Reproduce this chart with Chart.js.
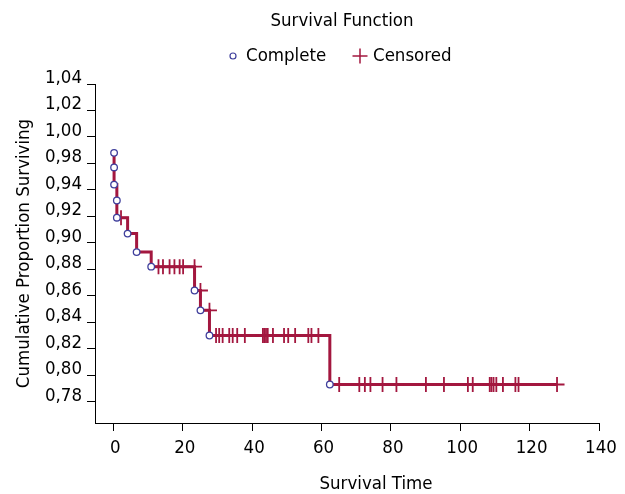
<!DOCTYPE html>
<html>
<head>
<meta charset="utf-8">
<script src="https://cdn.jsdelivr.net/npm/chart.js@4.4.0/dist/chart.umd.min.js"></script>
<style>
  html, body { margin: 0; padding: 0; background: #fff; }
  #wrap { width: 625px; height: 494px; }
</style>
</head>
<body>
<div id="wrap"><canvas id="grafico"></canvas></div>
<script>
// Eventos completos (circulos): tiempo y proporcion acumulada
var tiemposEvento = [0.2, 0.2, 0.2, 1.0, 1.0, 4.1, 6.7, 10.9, 23.4, 25.1, 27.7, 62.4];
var supervEvento  = [0.968, 0.957, 0.944, 0.932, 0.919, 0.907, 0.893, 0.882, 0.864, 0.849, 0.830, 0.793];

// Casos censurados (cruces): solo el tiempo, la altura sale de la curva
var tiemposCensura = [2.2, 13.0, 14.3, 16.2, 17.6, 19.1, 20.1, 23.4, 25.1, 27.7,
  29.6, 30.5, 31.5, 33.4, 34.4, 35.7, 37.9, 43.1, 43.5, 44.0, 44.5, 46.0, 49.2, 50.4, 52.4, 56.2, 57.1, 59.1,
  65.1, 70.9, 72.5, 74.1, 77.6, 81.6, 90.1, 95.3, 102.2, 103.6, 108.5, 109.0, 109.6, 110.4, 112.3, 115.9, 116.8, 127.9];

// Etiquetas de los ejes (tal como aparecen en la imagen)
var yTicks     = [0.78, 0.80, 0.82, 0.84, 0.86, 0.88, 0.90, 0.92, 0.94, 0.96, 0.98, 1.00, 1.02];
var yEtiquetas = ['0,78', '0,80', '0,82', '0,84', '0,86', '0,88', '0,90', '0,92', '0,94', '0,98', '1,00', '1,02', '1,04'];
var xTicks     = [0, 20, 40, 60, 80, 100, 120, 140];

var fuente = "'DejaVu Sans Condensed', sans-serif";
var tamLetra = 18.5;
var colorLinea = '#a3173f';
var colorCirculo = '#3f3f9c';

// altura de la curva justo antes del tiempo t
function nivel(t) {
  var s = supervEvento[0];
  for (var i = 0; i < tiemposEvento.length; i++) {
    if (tiemposEvento[i] < t) s = supervEvento[i];
  }
  return s;
}

var puntosEvento = tiemposEvento.map(function (t, i) { return { x: t, y: supervEvento[i] }; });
var puntosCensura = tiemposCensura.map(function (t) { return { x: t, y: nivel(t) }; });
var ultimo = tiemposCensura[tiemposCensura.length - 1];
var puntosCurva = puntosEvento.concat([{ x: ultimo, y: nivel(ultimo + 1) }]);

// titulo, leyenda y titulo del eje X dibujados a mano
var textosManual = {
  id: 'textosManual',
  afterDraw: function (chart) {
    var c = chart.ctx;
    var y = 56;
    c.save();
    c.font = tamLetra + 'px ' + fuente;
    c.textBaseline = 'middle';
    c.fillStyle = '#000';
    c.textAlign = 'center';
    c.fillText('Survival Function', 342, 21);
    c.fillText('Survival Time', 376, 484);
    c.textAlign = 'left';
    c.beginPath();
    c.arc(233, y, 3, 0, 2 * Math.PI);
    c.fillStyle = '#fff';
    c.fill();
    c.lineWidth = 1.2;
    c.strokeStyle = colorCirculo;
    c.stroke();
    c.fillStyle = '#000';
    c.fillText('Complete', 246, y);
    c.beginPath();
    c.moveTo(352.5, y); c.lineTo(367.5, y);
    c.moveTo(360, y - 7.5); c.lineTo(360, y + 7.5);
    c.lineWidth = 1.5;
    c.strokeStyle = colorLinea;
    c.stroke();
    c.fillText('Censored', 373, y);
    c.restore();
  }
};

var ctx = document.getElementById('grafico');
var grafico = new Chart(ctx, {
  type: 'scatter',
  data: {
    datasets: [{
      label: 'Complete',
      data: puntosEvento,
      pointStyle: 'circle',
      pointRadius: 3.3,
      pointBorderWidth: 1.3,
      pointBorderColor: colorCirculo,
      pointBackgroundColor: '#fff',
      showLine: false,
      order: 0
    }, {
      label: 'Censored',
      data: puntosCensura,
      pointStyle: 'cross',
      pointRadius: 7.5,
      pointBorderWidth: 1.8,
      pointBorderColor: colorLinea,
      showLine: false,
      order: 1
    }, {
      label: 'curva',
      data: puntosCurva,
      showLine: true,
      stepped: 'before',
      borderColor: colorLinea,
      borderWidth: 3,
      pointRadius: 0,
      order: 2
    }]
  },
  options: {
    responsive: true,
    maintainAspectRatio: false,
    animation: false,
    devicePixelRatio: 1,
    layout: { padding: { left: 0, right: 26, top: 84, bottom: 0 } },
    plugins: {
      legend: { display: false },
      tooltip: { enabled: false },
      title: { display: false }
    },
    scales: {
      x: {
        type: 'linear',
        min: -5.3,
        max: 140,
        afterBuildTicks: function (s) { s.ticks = xTicks.map(function (v) { return { value: v }; }); },
        afterFit: function (s) { s.height = 71; },
        grid: { display: true, drawOnChartArea: false, drawTicks: true, tickLength: 8, color: '#000' },
        border: { display: true, color: '#000', width: 1 },
        ticks: {
          color: '#000',
          padding: 6,
          labelOffset: 2,
          maxRotation: 0,
          font: { family: fuente, size: tamLetra },
          callback: function (v) { return String(v); }
        }
      },
      y: {
        type: 'linear',
        min: 0.7639,
        max: 1.02,
        afterBuildTicks: function (s) { s.ticks = yTicks.map(function (v) { return { value: v }; }); },
        afterFit: function (s) { s.width = 95; },
        grid: { display: true, drawOnChartArea: false, drawTicks: true, tickLength: 8, color: '#000' },
        border: { display: true, color: '#000', width: 1 },
        ticks: {
          color: '#000',
          padding: 5,
          labelOffset: -6,
          font: { family: fuente, size: tamLetra },
          callback: function (v, i) { return yEtiquetas[i]; }
        },
        title: {
          display: true,
          text: 'Cumulative Proportion Surviving',
          color: '#000',
          font: { family: fuente, size: tamLetra, lineHeight: 1 },
          padding: { top: 15, bottom: 0 }
        }
      }
    }
  },
  plugins: [textosManual]
});
</script>
</body>
</html>
